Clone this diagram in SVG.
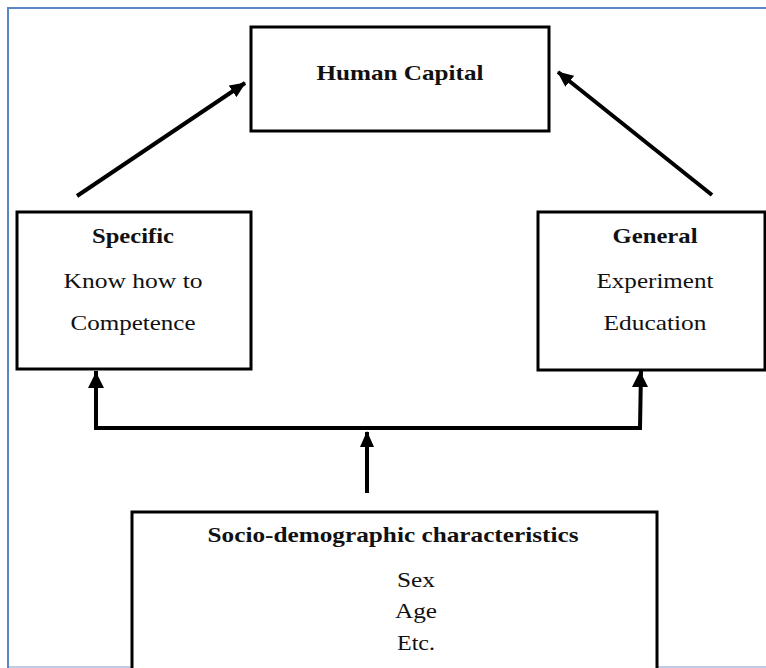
<svg xmlns="http://www.w3.org/2000/svg" width="766" height="668" viewBox="0 0 766 668">
<style>
.box{fill:#fff;stroke:#000;stroke-width:3}
.t{font-family:"Liberation Serif","Times New Roman",serif;font-size:22px;fill:#111;text-anchor:middle}
.b{font-weight:bold;font-size:21px}
.c{fill:none;stroke:#000;stroke-width:4}
</style>
<defs>
<marker id="ah" markerUnits="userSpaceOnUse" markerWidth="16" markerHeight="14" refX="15" refY="7" orient="auto">
<path d="M0,0 L16,7 L0,14 Z" fill="#000"/>
</marker>
</defs>
<rect width="766" height="668" fill="#fff"/>
<g id="frame">
<path d="M8,668 V8 H766" fill="none" stroke="#5b86c4" stroke-width="2"/>
<path d="M9,667 H766" fill="none" stroke="#a9bcdc" stroke-width="1.5"/>
</g>
<g id="human-capital">
<rect class="box" x="251" y="27" width="298" height="104"/>
<text class="t b" x="400" y="80" textLength="167" lengthAdjust="spacingAndGlyphs">Human Capital</text>
</g>
<g id="specific">
<rect class="box" x="17" y="212" width="234" height="157"/>
<text class="t b" x="133" y="243" textLength="82" lengthAdjust="spacingAndGlyphs">Specific</text>
<text class="t" x="133" y="288" textLength="139" lengthAdjust="spacingAndGlyphs">Know how to</text>
<text class="t" x="133" y="330" textLength="125" lengthAdjust="spacingAndGlyphs">Competence</text>
</g>
<g id="general">
<rect class="box" x="538" y="212" width="227" height="158"/>
<text class="t b" x="655" y="243" textLength="85" lengthAdjust="spacingAndGlyphs">General</text>
<text class="t" x="655" y="288" textLength="117" lengthAdjust="spacingAndGlyphs">Experiment</text>
<text class="t" x="655" y="330" textLength="103" lengthAdjust="spacingAndGlyphs">Education</text>
</g>
<g id="socio">
<rect class="box" x="132" y="512" width="525" height="170"/>
<text class="t b" x="393" y="542" textLength="371" lengthAdjust="spacingAndGlyphs">Socio-demographic characteristics</text>
<text class="t" x="416" y="587" textLength="38" lengthAdjust="spacingAndGlyphs">Sex</text>
<text class="t" x="416" y="618" textLength="42" lengthAdjust="spacingAndGlyphs">Age</text>
<text class="t" x="416" y="650" textLength="38" lengthAdjust="spacingAndGlyphs">Etc.</text>
</g>
<g id="connectors">
<line class="c" x1="77" y1="196" x2="245" y2="83" marker-end="url(#ah)"/>
<line class="c" x1="712" y1="195" x2="558" y2="72" marker-end="url(#ah)"/>
<path class="c" d="M96,371 V428 H640 L641,371" stroke-linejoin="miter"/>
<path d="M88,388 L96,372 L104,388 Z" fill="#000"/>
<path d="M632,387 L640,371 L648,387 Z" fill="#000"/>
<line class="c" x1="367" y1="493" x2="367" y2="432" marker-end="url(#ah)"/>
</g>
</svg>
